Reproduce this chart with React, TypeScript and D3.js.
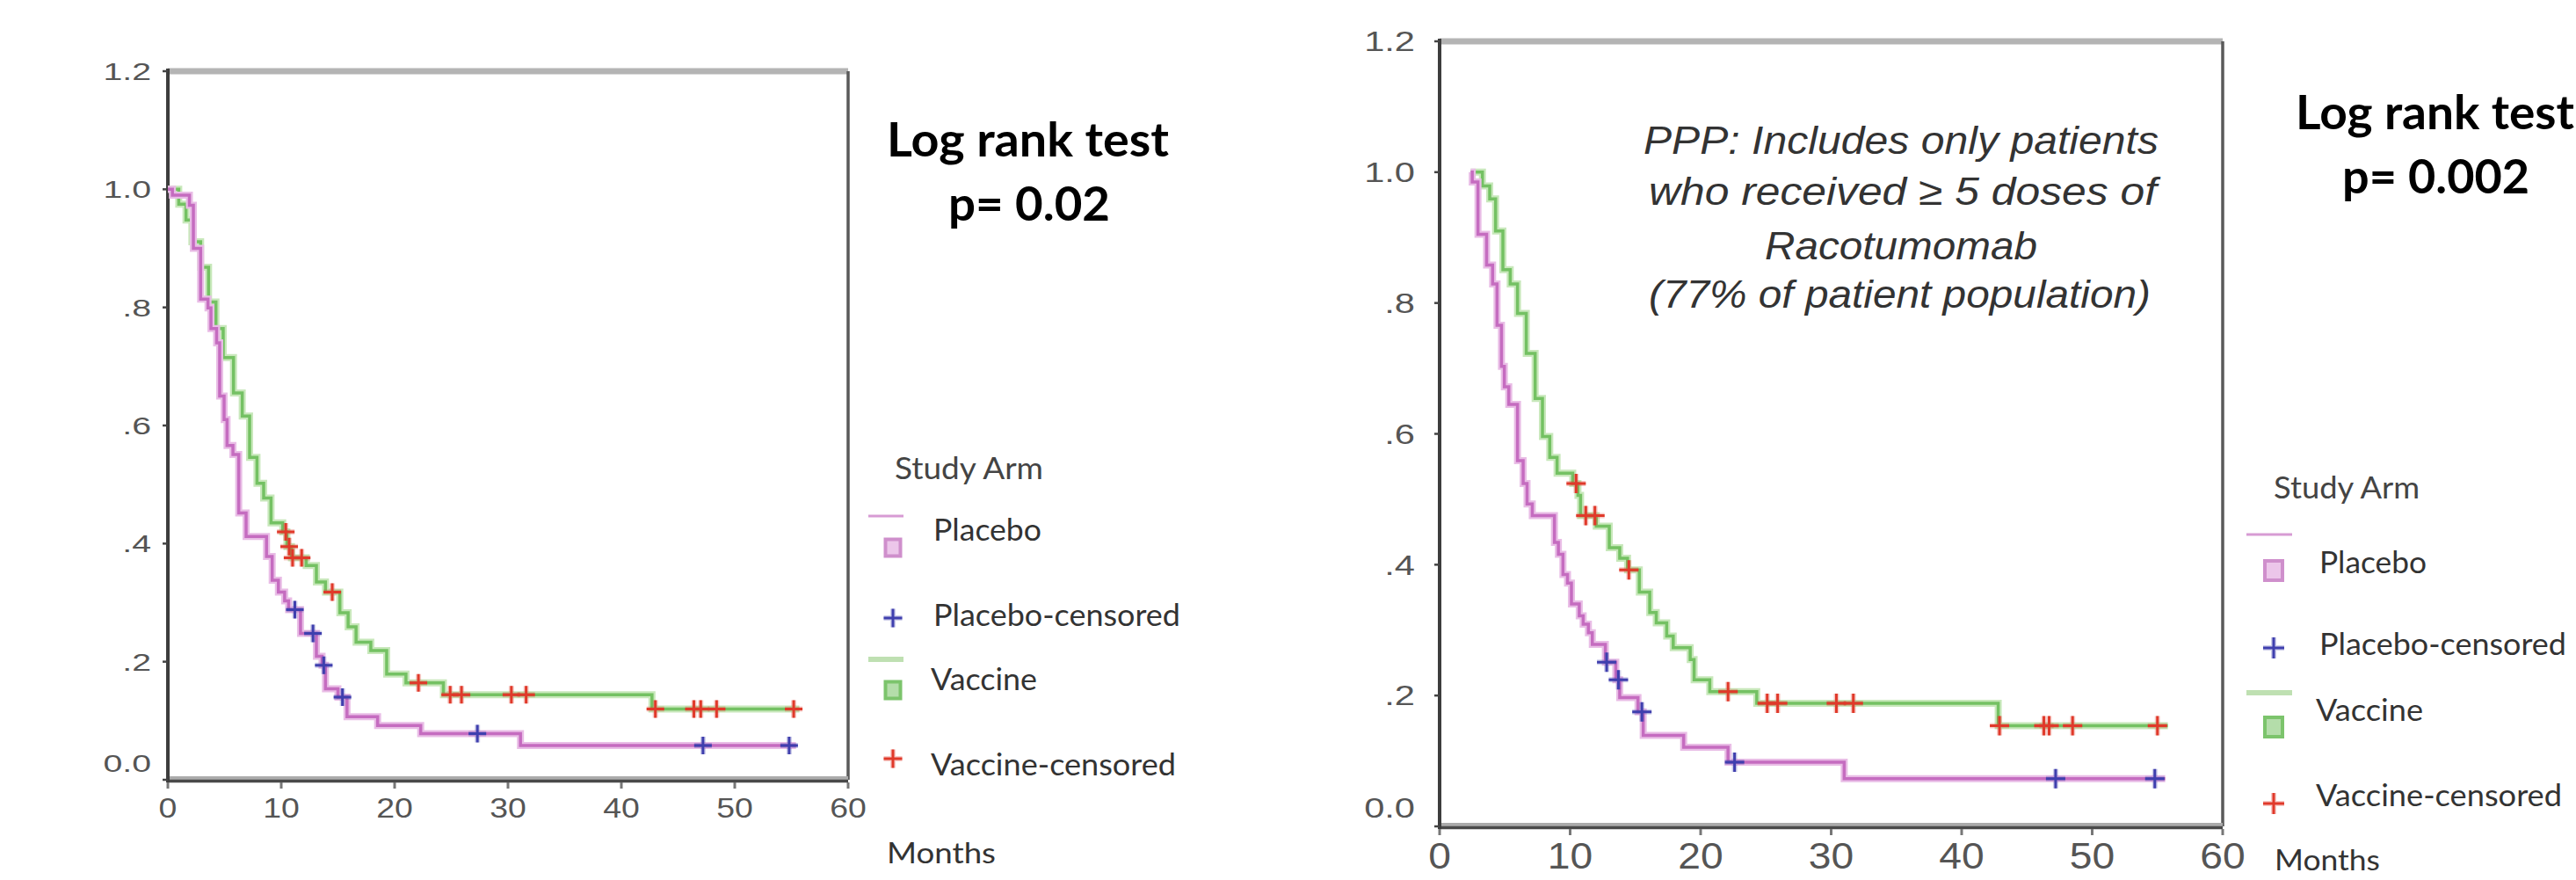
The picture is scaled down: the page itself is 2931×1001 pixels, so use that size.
import React from "react";
import * as d3 from "d3";

// axis ticks
const monthTicks = [0, 10, 20, 30, 40, 50, 60];
const survTicks = [0, 0.2, 0.4, 0.6, 0.8, 1.0, 1.2];
const survTickLabels = ["0.0", ".2", ".4", ".6", ".8", "1.0", "1.2"];

const legendTitle = "Study Arm";
const legendLabels = ["Placebo", "Placebo-censored", "Vaccine", "Vaccine-censored"];
const xTitle = "Months";
const testTitle = "Log rank test";

// left panel: all patients, [month, survival after step]
const ittPlacebo = [
  [0, 1.0], [0.4, 0.99], [1.9, 0.973], [2.25, 0.9], [2.89, 0.814], [3.54, 0.799],
  [3.8, 0.764], [4.3, 0.74], [4.57, 0.65], [4.96, 0.61], [5.22, 0.566], [5.74, 0.551],
  [6.25, 0.452], [6.9, 0.412], [8.7, 0.378], [9.2, 0.338], [9.75, 0.318], [10.3, 0.303],
  [10.65, 0.288], [11.7, 0.248], [13.1, 0.209], [13.6, 0.194], [13.9, 0.154], [15.0, 0.14],
  [15.8, 0.107], [18.5, 0.092], [22.3, 0.078], [31.1, 0.058], [55.4, 0.058],
];
const ittPlaceboCensored = [11.2, 12.8, 13.75, 15.4, 27.3, 47.2, 54.8];
const ittVaccine = [
  [0, 1.0], [0.96, 0.975], [1.6, 0.948], [2.12, 0.911], [2.89, 0.868], [3.59, 0.809],
  [4.24, 0.764], [4.88, 0.715], [5.79, 0.655], [6.56, 0.616], [7.21, 0.546], [7.86, 0.502],
  [8.45, 0.477], [9.1, 0.435], [10.13, 0.42], [10.5, 0.395], [10.9, 0.376], [12.2, 0.363],
  [13.1, 0.335], [13.9, 0.318], [15.17, 0.283], [15.9, 0.259], [16.6, 0.233], [17.9, 0.219],
  [19.3, 0.179], [21.0, 0.164], [24.3, 0.144], [42.7, 0.12], [55.7, 0.12],
];
const ittVaccineCensored = [10.4, 10.7, 11.0, 11.8, 14.5, 22.1, 24.9, 25.9, 30.3, 31.6, 43.0, 46.4, 47.0, 48.4, 55.2];
const ittP = "p= 0.02";

// right panel: per protocol population
const pppPlacebo = [
  [2.38, 1.0], [2.5, 0.985], [2.94, 0.905], [3.6, 0.858], [4.06, 0.829], [4.4, 0.766],
  [4.74, 0.703], [4.96, 0.672], [5.3, 0.645], [5.97, 0.559], [6.4, 0.524], [6.7, 0.493],
  [7.1, 0.475], [8.8, 0.434], [9.1, 0.416], [9.45, 0.385], [9.8, 0.372], [10.1, 0.34],
  [10.7, 0.322], [11.0, 0.309], [11.4, 0.296], [11.7, 0.278], [12.7, 0.251], [13.5, 0.224],
  [13.8, 0.197], [15.2, 0.175], [15.6, 0.139], [18.7, 0.121], [22.1, 0.098], [31.0, 0.073],
  [55.6, 0.073],
];
const pppPlaceboCensored = [12.8, 13.7, 15.5, 22.6, 47.2, 54.8];
const pppVaccine = [
  [2.38, 1.0], [3.28, 0.979], [3.84, 0.959], [4.29, 0.91], [4.85, 0.851], [5.41, 0.829],
  [5.97, 0.784], [6.64, 0.723], [7.32, 0.654], [7.88, 0.596], [8.44, 0.564], [9.0, 0.54],
  [10.2, 0.524], [10.6, 0.506], [10.8, 0.475], [12.0, 0.459], [13.0, 0.426], [13.8, 0.41],
  [14.4, 0.392], [15.3, 0.358], [16.1, 0.327], [16.6, 0.311], [17.4, 0.291], [17.9, 0.273],
  [19.2, 0.255], [19.5, 0.224], [20.7, 0.206], [24.3, 0.188], [42.8, 0.154], [55.8, 0.154],
];
const pppVaccineCensored = [10.46, 11.2, 11.9, 14.5, 22.1, 25.1, 25.9, 30.4, 31.7, 42.9, 46.3, 46.7, 48.5, 55.0];
const pppP = "p= 0.002";
const pppNote = [
  "PPP: Includes only patients",
  "who received  \u2265 5 doses of",
  "Racotumomab",
  "(77% of patient population)",
];

const PLACEBO = { core: "#c56cc0", halo: "#e9bde6" };
const VACCINE = { core: "#74c163", halo: "#c8e8bb" };
const BLUE = "#3f3fae";
const RED = "#e0392a";
const AXIS_FONT = "'Liberation Sans', Arial, sans-serif";
const TEXT_FONT = "Lato, 'Open Sans', sans-serif";

const leftLayout = {
  x0: 191, x1: 965, y0: 887, y1: 81,
  yLabelX: 172, yFont: 28, ySx: 1.4, zeroLift: 19,
  xLabelBase: 930, xFont: 32, xSx: 1.17, plus: 20,
};
const rightLayout = {
  x0: 1638, x1: 2529, y0: 940, y1: 47,
  yLabelX: 1610, yFont: 32, ySx: 1.3, zeroLift: 21,
  xLabelBase: 988, xFont: 42, xSx: 1.1, plus: 22,
};

const leftLegend = {
  title: [1018, 545, 169], lineX: [988, 1028], markX: 1016,
  lines: [587, 750], squares: [622, 784], pluses: [703, 863],
  texts: [[1062, 615, 123], [1062, 712, 281], [1059, 785, 121], [1059, 882, 279]],
  months: [1009, 982, 124], sq: 17,
  test: [1009, 178, 321], p: [1079, 251, 184],
};
const rightLegend = {
  title: [2587, 567, 166], lineX: [2556, 2608], markX: 2587,
  lines: [608, 788], squares: [648, 826], pluses: [737, 914],
  texts: [[2639, 652, 122], [2639, 745, 281], [2635, 820, 122], [2635, 917, 280]],
  months: [2588, 990, 120], sq: 20,
  test: [2612, 147, 317], p: [2665, 220, 213],
};
const noteLines = [[1870, 175, 586], [1876, 233, 578], [2008, 295, 310], [1876, 350, 571]];

function survAt(steps, t) {
  const i = d3.bisector((d) => d[0]).right(steps, t);
  return steps[Math.max(0, i - 1)][1];
}

function Plus({ cx, cy, size, color }) {
  const h = size / 2;
  const d = `M${cx - h},${cy}H${cx + h}M${cx},${cy - h}V${cy + h}`;
  return (
    <g>
      <path d={d} stroke={color} strokeWidth={6} opacity={0.25} />
      <path d={d} stroke={color} strokeWidth={3} />
    </g>
  );
}

function KMPanel({ layout, placebo, placeboCens, vaccine, vaccineCens }) {
  const x = d3.scaleLinear().domain([0, 60]).range([layout.x0, layout.x1]);
  const y = d3.scaleLinear().domain([0, 1.2]).range([layout.y0, layout.y1]);
  const line = d3.line().x((d) => x(d[0])).y((d) => y(d[1])).curve(d3.curveStepAfter);

  const drawCurve = (steps, col) => (
    <g fill="none">
      <path d={line(steps)} stroke={col.halo} strokeWidth={8} />
      <path d={line(steps)} stroke={col.core} strokeWidth={3.5} />
    </g>
  );

  return (
    <g>
      {/* frame */}
      <line x1={x(0)} x2={x(60)} y1={y(1.2)} y2={y(1.2)} stroke="#b4b4b4" strokeWidth={7} />
      <line x1={x(60)} x2={x(60)} y1={y(1.2)} y2={y(0)} stroke="#5a5a5a" strokeWidth={3.5} />
      <line x1={x(0)} x2={x(60)} y1={y(0) - 2} y2={y(0) - 2} stroke="#ababab" strokeWidth={4} />
      <line x1={x(0)} x2={x(60)} y1={y(0) + 1.5} y2={y(0) + 1.5} stroke="#4a4a4a" strokeWidth={3.5} />
      <line x1={x(0)} x2={x(0)} y1={y(1.2) - 3} y2={y(0) + 3} stroke="#3d3d3d" strokeWidth={4} />

      {survTicks.map((v, i) => (
        <g key={"y" + v}>
          <line x1={x(0) - 6} x2={x(0)} y1={y(v)} y2={y(v)} stroke="#444" strokeWidth={2.5} />
          <text
            transform={`translate(${layout.yLabelX},${y(v) - (v === 0 ? layout.zeroLift : 0)}) scale(${layout.ySx},1)`}
            textAnchor="end"
            dominantBaseline="central"
            fontFamily={AXIS_FONT}
            fontSize={layout.yFont}
            fill="#555"
          >
            {survTickLabels[i]}
          </text>
        </g>
      ))}
      {monthTicks.map((m) => (
        <g key={"x" + m}>
          <line x1={x(m)} x2={x(m)} y1={y(0) + 3} y2={y(0) + 10} stroke="#777" strokeWidth={3} />
          <text
            transform={`translate(${x(m)},${layout.xLabelBase}) scale(${layout.xSx},1)`}
            textAnchor="middle"
            fontFamily={AXIS_FONT}
            fontSize={layout.xFont}
            fill="#555"
          >
            {m}
          </text>
        </g>
      ))}

      {drawCurve(vaccine, VACCINE)}
      {drawCurve(placebo, PLACEBO)}

      {vaccineCens.map((t, i) => (
        <Plus key={"vc" + i} cx={x(t)} cy={y(survAt(vaccine, t))} size={layout.plus} color={RED} />
      ))}
      {placeboCens.map((t, i) => (
        <Plus key={"pc" + i} cx={x(t)} cy={y(survAt(placebo, t))} size={layout.plus} color={BLUE} />
      ))}
    </g>
  );
}

function Legend({ lg, pText }) {
  const label = (pos, txt, size, weight, fill, key) => (
    <text
      key={key}
      x={pos[0]}
      y={pos[1]}
      textLength={pos[2]}
      lengthAdjust="spacingAndGlyphs"
      fontFamily={TEXT_FONT}
      fontSize={size}
      fontWeight={weight}
      fill={fill}
    >
      {txt}
    </text>
  );
  const s = lg.sq;
  return (
    <g>
      {label(lg.test, testTitle, 53, 700, "#000", "t")}
      {label(lg.p, pText, 53, 700, "#000", "p")}
      {label(lg.title, legendTitle, 35, 400, "#444", "st")}
      {legendLabels.map((txt, i) => label(lg.texts[i], txt, 35, 400, "#333", "l" + i))}
      {label(lg.months, xTitle, 33, 400, "#333", "m")}

      <line x1={lg.lineX[0]} x2={lg.lineX[1]} y1={lg.lines[0]} y2={lg.lines[0]} stroke="#d79bd4" strokeWidth={3} />
      <rect x={lg.markX - s / 2} y={lg.squares[0] - s / 2} width={s} height={s + 2} fill="#ecc6ea" stroke="#cf8fcc" strokeWidth={4} />
      <Plus cx={lg.markX} cy={lg.pluses[0]} size={s + 4} color={BLUE} />

      <line x1={lg.lineX[0]} x2={lg.lineX[1]} y1={lg.lines[1]} y2={lg.lines[1]} stroke="#bfe0b2" strokeWidth={6} />
      <rect x={lg.markX - s / 2} y={lg.squares[1] - s / 2} width={s} height={s + 2} fill="#b4ddaa" stroke="#7cc46c" strokeWidth={4} />
      <Plus cx={lg.markX} cy={lg.pluses[1]} size={s + 4} color={RED} />
    </g>
  );
}

export default function App() {
  return (
    <svg
      width={2931}
      height={1001}
      style={{ position: "absolute", left: 0, top: 0, background: "#fff", display: "block" }}
    >
      <rect width={2931} height={1001} fill="#fff" />
      <KMPanel
        layout={leftLayout}
        placebo={ittPlacebo}
        placeboCens={ittPlaceboCensored}
        vaccine={ittVaccine}
        vaccineCens={ittVaccineCensored}
      />
      <Legend lg={leftLegend} pText={ittP} />

      <KMPanel
        layout={rightLayout}
        placebo={pppPlacebo}
        placeboCens={pppPlaceboCensored}
        vaccine={pppVaccine}
        vaccineCens={pppVaccineCensored}
      />
      <Legend lg={rightLegend} pText={pppP} />

      {pppNote.map((txt, i) => (
        <text
          key={"n" + i}
          x={noteLines[i][0]}
          y={noteLines[i][1]}
          textLength={noteLines[i][2]}
          lengthAdjust="spacingAndGlyphs"
          fontFamily={AXIS_FONT}
          fontStyle="italic"
          fontSize={45}
          fill="#333"
        >
          {txt}
        </text>
      ))}
    </svg>
  );
}
